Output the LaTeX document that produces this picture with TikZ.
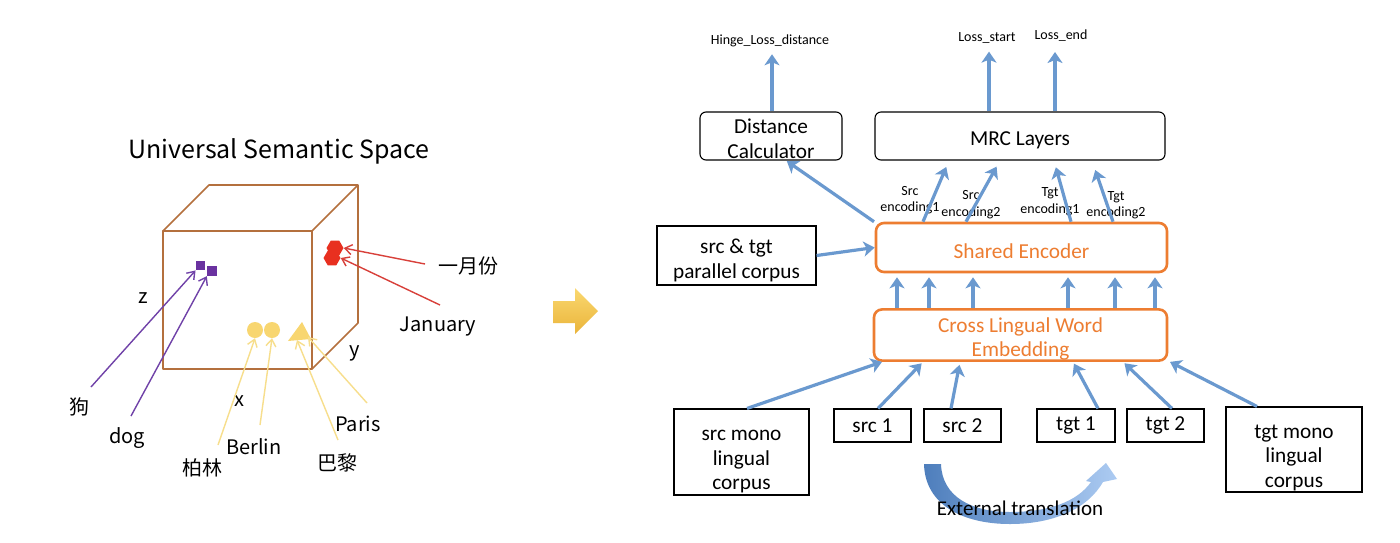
\documentclass[tikz,border=0pt]{standalone}
\usepackage{fontspec}
\setmainfont{Carlito}
\newfontfamily\cjk{Noto Sans CJK SC}
\usetikzlibrary{arrows.meta,shapes.geometric}
\definecolor{cubec}{RGB}{180,112,62}
\definecolor{purp}{RGB}{106,50,160}
\definecolor{purpl}{RGB}{112,66,168}
\definecolor{redc}{RGB}{232,48,32}
\definecolor{redl}{RGB}{216,64,58}
\definecolor{yel}{RGB}{248,214,112}
\definecolor{yell}{RGB}{247,222,140}
\definecolor{orng}{RGB}{237,125,49}
\definecolor{bl}{RGB}{106,153,207}
\definecolor{bldark}{RGB}{78,126,188}
\definecolor{bllight}{RGB}{172,203,242}
\definecolor{golda}{RGB}{250,216,112}
\definecolor{goldb}{RGB}{234,180,58}
\newcommand\topstrut[1]{\rule{0pt}{#1}}
\tikzset{
  plainbox/.style={draw=black, line width=1.1pt, inner sep=0pt, align=center,
    font=\fontsize{21.3}{24.5}\selectfont},
  rbox/.style={plainbox, rounded corners=6pt},
  obox/.style={draw=orng, line width=2.6pt, rounded corners=8pt, text=orng,
    inner sep=0pt, align=center, font=\fontsize{21.3}{24.5}\selectfont},
  blarrow/.style={draw=bl, line width=3.2pt, -{Stealth[length=11pt,width=15pt,inset=3pt]}},
  toplbl/.style={font=\fontsize{14}{16}\selectfont, inner sep=1pt},
  enc/.style={font=\fontsize{14}{16.5}\selectfont, align=center, inner sep=0pt},
  leftlbl/.style={font=\cjk\fontsize{20}{24}\selectfont, inner sep=0pt},
  thinarrow/.style={line width=1.4pt, -{Straight Barb[length=7pt,width=10pt,line width=1.4pt]}},
}
\begin{document}
\begin{tikzpicture}[x=1pt,y=-1pt]
\useasboundingbox[fill=white] (0,0) rectangle (1400,542);

% ---------------- left panel ----------------
\node[font=\cjk\fontsize{25}{30}\selectfont, inner sep=0pt] (title) at (279,151) {Universal Semantic Space};

\draw[cubec, line width=1.6pt, line join=round] (163,231) rectangle (312,369);
\draw[cubec, line width=1.6pt, line join=round]
  (163,231) -- (209,185) -- (358,185) -- (312,231)
  (358,185) -- (358,323) -- (312,369);

% purple squares
\node[fill=purp, minimum size=9.5pt, inner sep=0pt] (sqa) at (200.5,265.5) {};
\node[fill=purp, minimum size=10pt, inner sep=0pt] (sqb) at (212,271) {};
% red hexagons
\node[regular polygon, regular polygon sides=6, fill=redc, minimum size=17pt, inner sep=0pt] (hexa) at (335,248) {};
\node[regular polygon, regular polygon sides=6, fill=redc, minimum size=17pt, inner sep=0pt] (hexb) at (332,258) {};
% yellow circles and triangle
\node[circle, fill=yel, minimum size=16pt, inner sep=0pt] (ca) at (255,330) {};
\node[circle, fill=yel, minimum size=16pt, inner sep=0pt] (cb) at (272,330) {};
\fill[yel] (302,322) -- (288,341) -- (311,339) -- cycle;
\coordinate (trib) at (297,340);
\coordinate (tric) at (308,337);

% labels
\node[leftlbl] (zl) at (143,298) {z};
\node[leftlbl] (xl) at (239,401) {x};
\node[leftlbl] (yl) at (355,353) {y};
\node[leftlbl] (gou) at (79,407) {狗};
\node[leftlbl] (dog) at (127,438) {dog};
\node[leftlbl] (bolin) at (202,468) {柏林};
\node[leftlbl] (berlin) at (254,447) {Berlin};
\node[leftlbl] (bali) at (337,463) {巴黎};
\node[leftlbl] (paris) at (358,424) {Paris};
\node[leftlbl] (yue) at (468,266) {一月份};
\node[leftlbl] (jan) at (438,327) {January};

\coordinate (gouS) at (91,387);
\coordinate (dogS) at (131,416);
\coordinate (bolinS) at (218,445);
\coordinate (berlinS) at (260,425);
\coordinate (baliS) at (338,440);
\coordinate (parisS) at (367,403);
\coordinate (yueS) at (425,264);
\coordinate (janS) at (440,305);

\draw[thinarrow, purpl] (gouS) -- (sqa.south west);
\draw[thinarrow, purpl] (dogS) -- (sqb.south west);
\draw[thinarrow, redl] (yueS) -- (hexa.east);
\draw[thinarrow, redl] (janS) -- (hexb.east);
\draw[thinarrow, yell] (bolinS) -- (ca.south);
\draw[thinarrow, yell] (berlinS) -- (cb.south);
\draw[thinarrow, yell] (baliS) -- (trib);
\draw[thinarrow, yell] (parisS) -- (tric);

% big yellow arrow
\shade[top color=golda, bottom color=goldb]
  (553,301) -- (575,301) -- (575,288) -- (598,311) -- (575,334) -- (575,323) -- (553,323) -- cycle;

% ---------------- right panel ----------------
\node[toplbl] (hinge) at (770,41) {Hinge\_Loss\_distance};
\node[toplbl] (lstart) at (987,38) {Loss\_start};
\node[toplbl] (lend) at (1061,36) {Loss\_end};

\node[rbox, minimum width=142pt, minimum height=48pt] (dist) at (771,136) {\topstrut{20pt}Distance\\Calculator};
\node[rbox, minimum width=290pt, minimum height=48pt] (mrc) at (1020,136) {\topstrut{22pt}MRC Layers};
\node[obox, minimum width=291pt, minimum height=49pt] (shared) at (1021.5,247.5) {\topstrut{23pt}Shared Encoder};
\node[obox, minimum width=293pt, minimum height=50pt] (clwe) at (1020.5,335) {\topstrut{23pt}Cross Lingual Word\\Embedding};
\node[plainbox, minimum width=159pt, minimum height=59pt] (par) at (736.5,255.5) {\topstrut{24pt}src \& tgt\\parallel corpus};
\node[plainbox, minimum width=135pt, minimum height=86pt] (srcmono) at (741.5,452) {\topstrut{30pt}src mono\\lingual\\corpus};
\node[plainbox, minimum width=77pt, minimum height=33pt] (src1) at (872.5,425.5) {src 1};
\node[plainbox, minimum width=77pt, minimum height=33pt] (src2) at (962.5,425.5) {src 2};
\node[plainbox, minimum width=78pt, minimum height=33pt] (tgt1) at (1076,425.5) {tgt 1};
\node[plainbox, minimum width=77pt, minimum height=33pt] (tgt2) at (1165.5,425.5) {tgt 2};
\node[plainbox, minimum width=136pt, minimum height=85pt] (tgtmono) at (1294,449.5) {\topstrut{30pt}tgt mono\\lingual\\corpus};

\node[enc] (e1) at (910,200) {Src\\encoding1};
\node[enc] (e2) at (971,204.5) {Src\\encoding2};
\node[enc] (e3) at (1050,201.5) {Tgt\\encoding1};
\node[enc] (e4) at (1116,205) {Tgt\\encoding2};

% up arrows to losses
\draw[blarrow, shorten >=6pt] (dist.north -| 772,0) -- (hinge.south -| 772,0);
\draw[blarrow, shorten >=7pt] (mrc.north -| 989,0) -- (lstart.south -| 989,0);
\draw[blarrow, shorten >=9pt] (mrc.north -| 1055,0) -- (lend.south -| 1055,0);

% shared -> distance / mrc
\draw[blarrow, shorten >=1pt] (shared.north -| 874,0) -- (dist.south -| 786,0);
\draw[blarrow, shorten >=7pt] (shared.north -| 923,0) -- (mrc.south -| 949,0);
\draw[blarrow, shorten >=7pt] (shared.north -| 966,0) -- (mrc.south -| 1000,0);
\draw[blarrow, shorten >=7pt] (shared.north -| 1071,0) -- (mrc.south -| 1054,0);
\draw[blarrow, shorten >=10pt] (shared.north -| 1113,0) -- (mrc.south -| 1092,0);

% parallel -> shared
\draw[blarrow] (par.east) -- (shared.west);

% clwe -> shared
\foreach \xx in {897,929,973,1068,1115,1155}
  \draw[blarrow, shorten >=4pt] (clwe.north -| \xx,0) -- (shared.south -| \xx,0);

% inputs -> clwe
\draw[blarrow] (srcmono.north -| 747,0) -- (clwe.south -| 882,0);
\draw[blarrow, shorten >=2pt] (src1.north -| 878,0) -- (clwe.south -| 923,0);
\draw[blarrow, shorten >=3pt] (src2.north -| 951,0) -- (clwe.south -| 960,0);
\draw[blarrow, shorten >=2pt] (tgt1.north -| 1098,0) -- (clwe.south -| 1073,0);
\draw[blarrow, shorten >=2pt] (tgt2.north -| 1172,0) -- (clwe.south -| 1123,0);
\draw[blarrow] (tgtmono.north -| 1257,0) -- (clwe.south -| 1170,0);

% external translation curved arrow
\shade[left color=bldark, right color=bllight]
  (924,464) .. controls (925,505) and (963,524) .. (1010,524)
  .. controls (1055,524) and (1088,508) .. (1103,482)
  -- (1117,479) -- (1106,463) -- (1086,481) -- (1091,482)
  .. controls (1077,502) and (1048,512) .. (1010,512)
  .. controls (972,512) and (942,497) .. (941,464) -- cycle;
\node[font=\fontsize{21}{24}\selectfont, inner sep=0pt] (ext) at (1020,508) {External translation};
\end{tikzpicture}
\end{document}
